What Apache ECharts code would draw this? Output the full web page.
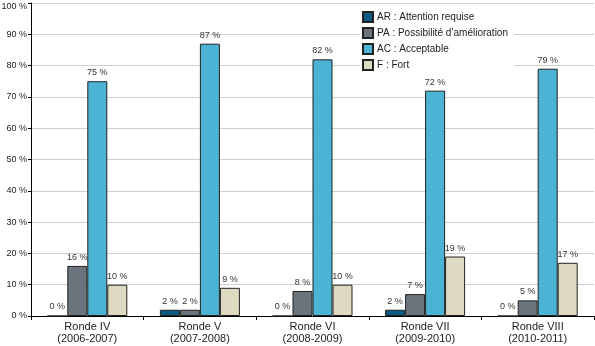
<!DOCTYPE html>
<html>
<head>
<meta charset="utf-8">
<script src="https://cdn.jsdelivr.net/npm/echarts@6/dist/echarts.min.js"></script>
<style>
html,body{margin:0;padding:0;background:#fff;}
#chart{width:595px;height:346px;}
</style>
</head>
<body>
<div id="chart"></div>
<script>
// Rondes d'évaluation
const categories = [
  'Ronde IV\n(2006-2007)',
  'Ronde V\n(2007-2008)',
  'Ronde VI\n(2008-2009)',
  'Ronde VII\n(2009-2010)',
  'Ronde VIII\n(2010-2011)'
];
const seriesNames = [
  'AR : Attention requise',
  'PA : Possibilité d\u2019amélioration',
  'AC : Acceptable',
  'F : Fort'
];
// Pourcentages par cote
const arValues = [0, 2, 0, 2, 0];
const paValues = [16, 2, 8, 7, 5];
const acValues = [75, 87, 82, 72, 79];
const fValues = [10, 9, 10, 19, 17];

const colors = ['#0b5a82', '#6b737c', '#4bb3d4', '#dedac1'];
const allValues = [arValues, paValues, acValues, fValues];

const font = '"Liberation Sans", Arial, Helvetica, sans-serif';

const chart = echarts.init(document.getElementById('chart'));
chart.setOption({
  animation: false,
  textStyle: { fontFamily: font },
  grid: { left: 31, right: 1, top: 3, bottom: 30, containLabel: false, outerBoundsMode: 'none' },
  legend: {
    orient: 'vertical',
    left: 360,
    top: 9,
    itemWidth: 10,
    itemHeight: 10,
    itemGap: 4,
    padding: [2, 6, 2, 2],
    backgroundColor: '#fff',
    icon: 'rect',
    textStyle: { fontFamily: font, fontSize: 10, color: '#222', padding: [0, 0, 0, -1] },
    data: seriesNames
  },
  xAxis: {
    type: 'category',
    data: categories,
    axisLine: { lineStyle: { color: '#000', width: 1 } },
    axisTick: { show: true, length: 4, lineStyle: { color: '#000' } },
    axisLabel: { fontSize: 11, color: '#222', lineHeight: 12, margin: 5, fontFamily: font }
  },
  yAxis: {
    type: 'value',
    min: 0,
    max: 100,
    interval: 10,
    axisLine: { show: true, lineStyle: { color: '#000', width: 1 } },
    axisTick: { show: true, length: 3, lineStyle: { color: '#000' } },
    axisLabel: {
      // the top label is nudged down so it stays inside the canvas
      formatter: v => (v === 100 ? '{top|100 %}' : v + ' %'),
      rich: { top: { fontSize: 9, color: '#222', fontFamily: font, padding: [7, 0, 0, 0] } },
      fontSize: 9, color: '#222', margin: 4, fontFamily: font
    },
    splitLine: { lineStyle: { color: '#cfcfcf', width: 1 } }
  },
  series: seriesNames.map((name, i) => ({
    name: name,
    type: 'bar',
    data: allValues[i],
    barWidth: 20,
    barGap: '0%',
    itemStyle: { color: colors[i], borderColor: '#222', borderWidth: 1 },
    label: {
      show: true,
      position: 'top',
      distance: 4,
      formatter: p => p.value + ' %',
      fontSize: 9,
      color: '#333',
      fontFamily: font
    }
  }))
});
</script>
</body>
</html>
